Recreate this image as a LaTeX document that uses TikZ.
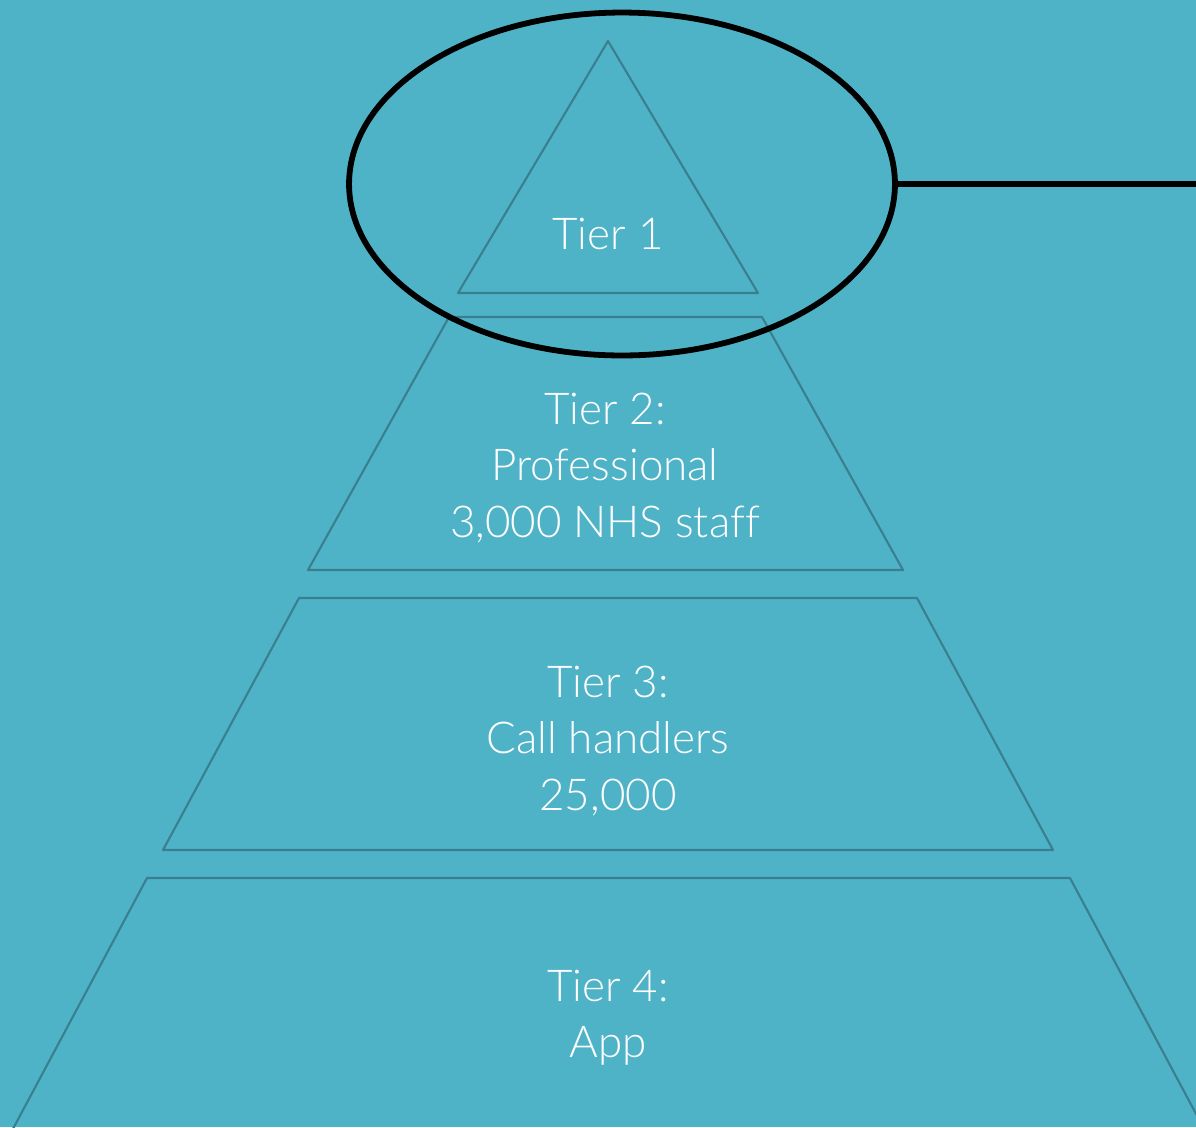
\documentclass[tikz,border=0pt]{standalone}
\usepackage{fontspec}
\setmainfont{Lato}[UprightFont=* Light, Ligatures=NoCommon]
\usetikzlibrary{shapes.geometric}
\definecolor{sea}{RGB}{79,179,199}
\definecolor{rimline}{RGB}{58,127,143}
\tikzset{
	tier/.style={draw=rimline, line width=1.2pt, line join=round},
	tiertext/.style={text=white, align=center, inner sep=0pt, font=\fontsize{25}{32}\selectfont},
	ring/.style={draw=black, line width=3.3pt, ellipse, inner sep=0pt, minimum width=10.92cm, minimum height=6.86cm}
}

\begin{document}
\begin{tikzpicture}[x=0.02cm, y=-0.02cm]
	\fill[sea] (0,0) rectangle (1196,1127);
	\useasboundingbox (0,0) rectangle (1196,1127);
	\begin{scope}
		\clip (0,0) rectangle (1196,1127);
		\draw[tier] (608,41) -- (758,293) -- (458,293) -- cycle;
		\foreach \tl/\tr/\bl/\br/\t/\b in {449/762/308/903/317/570,
			299/917/163/1053/598/850,
			147/1070/7/1210/878/1140} {
			\draw[tier] (\tl,\t) -- (\tr,\t) -- (\br,\b) -- (\bl,\b) -- cycle;
			}
	\end{scope}
	\node[tiertext] (t1) at (608,234) {Tier 1};
	\node[tiertext] (t2) at (605,468) {Tier 2:\\Professional\\3,000 NHS staff};
	\node[tiertext] (t3) at (608,741) {Tier 3:\\Call handlers\\25,000};
	\node[tiertext] (t4) at (608,1018) {Tier 4:\\App};
	\node[ring] (focus) at (622,184) {};
	\coordinate (edgept) at (1196,184);
	\draw[line width=3.3pt] (focus.east) -- (edgept);
\end{tikzpicture}
\end{document}
